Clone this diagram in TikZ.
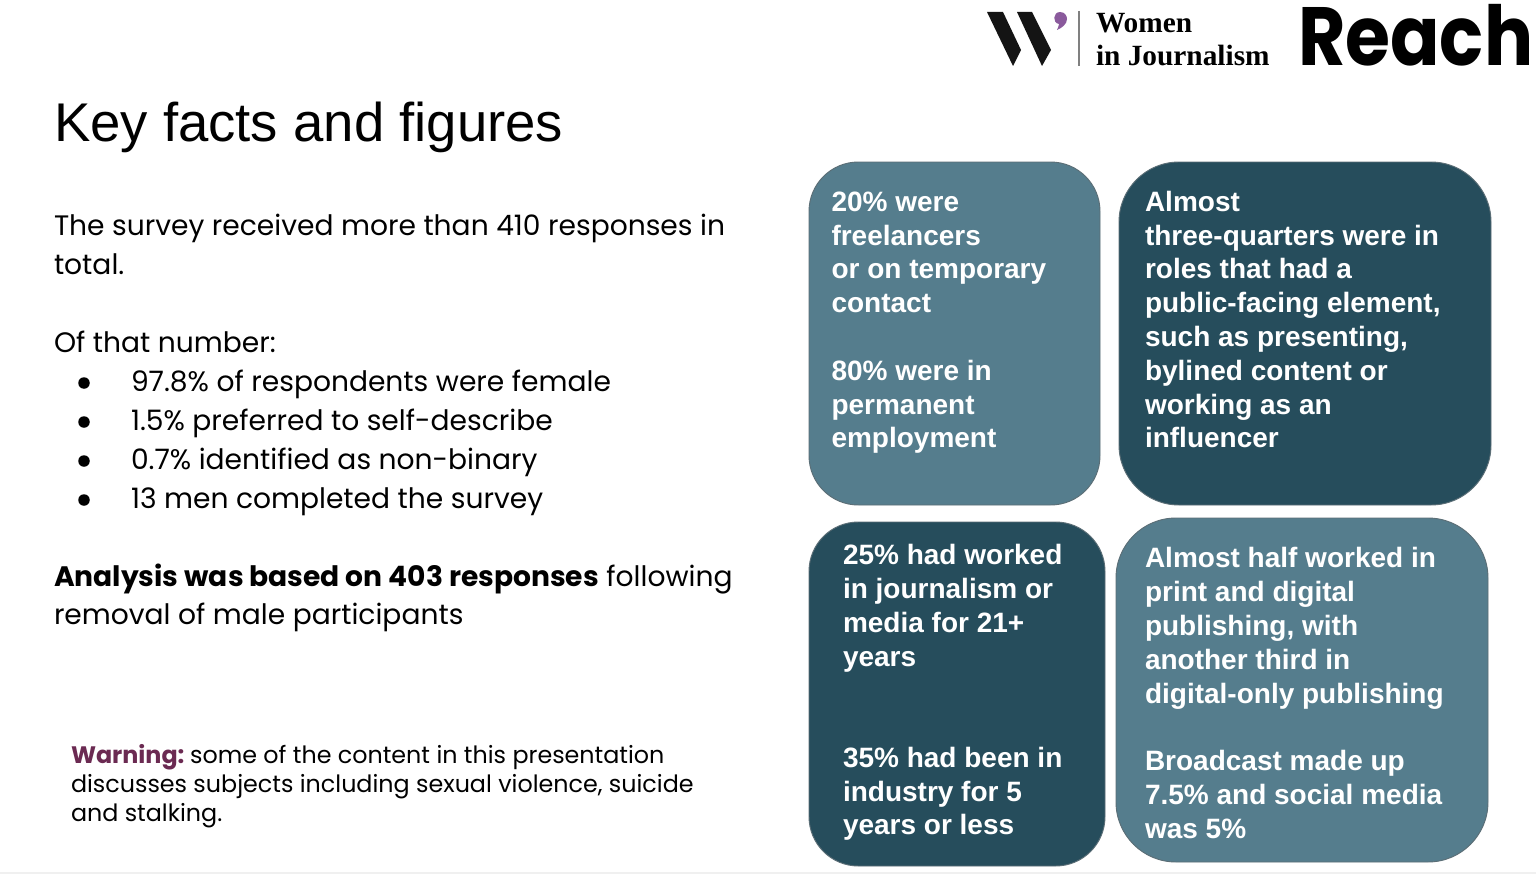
\documentclass[tikz,border=0pt]{standalone}
\usepackage{graphicx}
\usepackage{fontspec}
\setmainfont{Poppins}
\newfontfamily\arialf{Liberation Sans}
\newfontfamily\serf{Liberation Serif}
\definecolor{lightteal}{HTML}{557D8D}
\definecolor{darkteal}{HTML}{264D5C}
\definecolor{edgegrey}{HTML}{5B6E76}
\definecolor{plum}{HTML}{6B2A52}
\definecolor{commap}{HTML}{8A5A9C}
\tikzset{
  x=0.75pt,y=-0.75pt,
  tile/.style={draw=edgegrey,line width=0.7pt,inner sep=0pt,outer sep=0pt,anchor=north west},
  tiletext/.style={text=white,inner sep=0pt,outer sep=0pt,anchor=north west,align=left,
    font=\arialf\bfseries\fontsize{21pt}{25.35pt}\selectfont},
  bodytext/.style={inner sep=0pt,outer sep=0pt,anchor=north west,align=left,
    font=\fontsize{21.1pt}{29.1pt}\selectfont},
}
\begin{document}
\begin{tikzpicture}
\useasboundingbox (0,0) rectangle (1536,874);
\fill[white] (0,0) rectangle (1536,874);
\fill[black!6] (0,872) rectangle (1536,874);
% title
\node[inner sep=0pt,outer sep=0pt,anchor=base west,font=\arialf\fontsize{40.9pt}{50pt}\selectfont] (title) at (54,142) {Key facts and figures};
% body
\node[bodytext] (intro) at (54,214.5) {The survey received more than 410 responses in\\total.};
\node[bodytext] (ofthat) at (54,331) {Of that number:};
\node[bodytext] (l1) at (131,370) {97.8\% of respondents were female};
\node[bodytext] (l2) at (131,409) {1.5\% preferred to self-describe};
\node[bodytext] (l3) at (131,448) {0.7\% identified as non-binary};
\node[bodytext] (l4) at (131,487.5) {13 men completed the survey};
\foreach \n/\y in {b1/383,b2/422,b3/461,b4/500}
  \node[circle,fill=black,inner sep=0pt,minimum size=11.5*0.75pt] (\n) at (84,\y) {};
\node[bodytext] (analysis) at (54,563.5) {\textbf{Analysis was based on 403 responses} following\\removal of male participants};
\node[inner sep=0pt,outer sep=0pt,anchor=north west,align=left,font=\fontsize{17.86pt}{21.8pt}\selectfont] (warn) at (71,744) {\textcolor{plum}{\textbf{Warning:}}\hspace{-0.12em} some of the content in this presentation\\discusses subjects including sexual violence, suicide\\and stalking.};
% tiles
\node[tile,fill=lightteal,rounded corners=37pt,minimum width=291*0.75pt,minimum height=343*0.75pt] (t1) at (809,162) {};
\node[tile,fill=darkteal,rounded corners=45pt,minimum width=372*0.75pt,minimum height=343*0.75pt] (t2) at (1119,162) {};
\node[tile,fill=darkteal,rounded corners=37pt,minimum width=296*0.75pt,minimum height=344*0.75pt] (t3) at (809,522) {};
\node[tile,fill=lightteal,rounded corners=45pt,minimum width=372*0.75pt,minimum height=344*0.75pt] (t4) at (1116,518) {};
\node[tiletext] (x1) at (831.5,191.7) {20\% were\\freelancers\\or on temporary\\contact\\[25.35pt]80\% were in\\permanent\\employment};
\node[tiletext] (x2) at (1145,191) {Almost\\three-quarters were in\\roles that had a\\public-facing element,\\such as presenting,\\bylined content or\\working as an\\influencer};
\node[tiletext] (x3) at (843,544.5) {25\% had worked\\in journalism or\\media for 21+\\years};
\node[tiletext] (x3b) at (843,747) {35\% had been in\\industry for 5\\years or less};
\node[tiletext] (x4) at (1145,547.7) {Almost half worked in\\print and digital\\publishing, with\\another third in\\digital-only publishing\\[25.35pt]Broadcast made up\\7.5\% and social media\\was 5\%};
% logos
\fill[black!92] (987,12) -- (1003,12) -- (1021,50) -- (1013,66) -- cycle;
\fill[black!92] (1017,12) -- (1032,12) -- (1051,50) -- (1042,66) -- cycle;
\fill[commap] (1060,12) .. controls (1065,12) and (1067,16) .. (1067,19) .. controls (1067,24) and (1062,28) .. (1057,30) .. controls (1058,27) and (1059,26) .. (1059,24) .. controls (1052,23) and (1053,12) .. (1060,12) -- cycle;
\draw[black!50,line width=0.8pt] (1079,11) -- (1079,66);
\node[inner sep=0pt,outer sep=0pt,anchor=base west,font=\serf\bfseries\fontsize{22pt}{25pt}\selectfont] (women) at (1096,33) {Women};
\node[inner sep=0pt,outer sep=0pt,anchor=base west,font=\serf\bfseries\fontsize{22pt}{25pt}\selectfont] (injourn) at (1096,66) {in Journalism};
\node[inner sep=0pt,outer sep=0pt,anchor=base west,font=\bfseries\fontsize{62pt}{70pt}\selectfont] (reach) at (1298,66) {\scalebox{0.882}[1]{Reach}};
\end{tikzpicture}
\end{document}
